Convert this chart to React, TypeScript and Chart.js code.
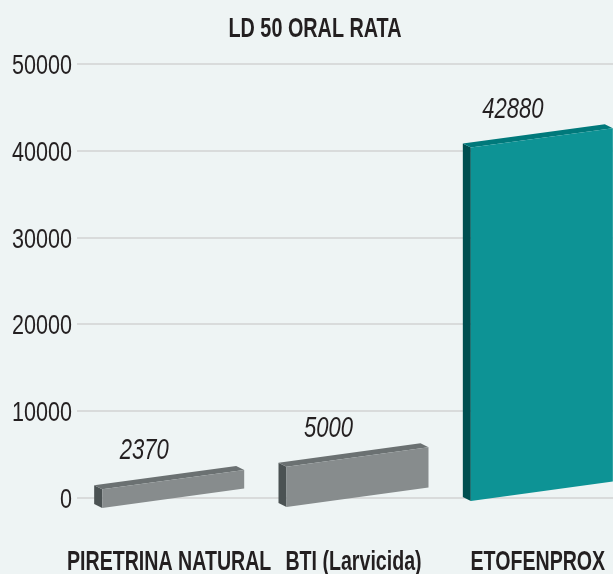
import React, { useEffect, useRef } from "react";
import { Chart, registerables } from "chart.js";

Chart.register(...registerables);

const categories = ["PIRETRINA NATURAL", "BTI (Larvicida)", "ETOFENPROX"];
const values = [2370, 5000, 42880];
const yMin = 0;
const yMax = 50000;
const yStep = 10000;
const title = "LD 50 ORAL RATA";

const FONT = '"Liberation Sans", Arial, sans-serif';
const TEXT = "#231f20";
const BG = "#eef4f4";
const frontColors = ["#878c8d", "#878c8d", "#0d9395"];
const topColors = ["#6b7172", "#6b7172", "#00797b"];
const sideColors = ["#4b5253", "#4b5253", "#004f50"];
const dropPx = [11, 10, 4];
const DEPTH_X = 8;
const DEPTH_Y = 4;
const SKEW = 0.137;
const HEIGHT_K = 0.952;

function drawText(
  ctx: CanvasRenderingContext2D,
  text: string,
  x: number,
  y: number,
  font: string,
  sx: number,
  align: CanvasTextAlign
) {
  ctx.save();
  ctx.translate(x, y);
  ctx.scale(sx, 1);
  ctx.font = font;
  ctx.fillStyle = TEXT;
  ctx.textAlign = align;
  ctx.textBaseline = "alphabetic";
  ctx.fillText(text, 0, 0);
  ctx.restore();
}

const bar3d = {
  id: "bar3d",
  afterDatasetsDraw(chart: any) {
    const meta = chart.getDatasetMeta(0);
    const ctx = chart.ctx;
    ctx.save();
    meta.data.forEach((el: any, i: number) => {
      const { x, y, base, width } = el.getProps(["x", "y", "base", "width"], true);
      const h = (base - y) * HEIGHT_K;
      const right = x + width / 2;
      const fl = x - width / 2 + DEPTH_X;
      const fw = right - fl;
      const bl = { x: fl, y: base + dropPx[i] };
      const br = { x: right, y: bl.y - fw * SKEW };
      const tl = { x: fl, y: bl.y - h };
      const tr = { x: right, y: br.y - h };
      const poly = (pts: { x: number; y: number }[], color: string) => {
        ctx.beginPath();
        ctx.moveTo(pts[0].x, pts[0].y);
        for (let k = 1; k < pts.length; k++) ctx.lineTo(pts[k].x, pts[k].y);
        ctx.closePath();
        ctx.fillStyle = color;
        ctx.fill();
      };
      const d = (p: { x: number; y: number }) => ({ x: p.x - DEPTH_X, y: p.y - DEPTH_Y });
      poly([tl, bl, d(bl), d(tl)], sideColors[i]);
      poly([tl, tr, d(tr), d(tl)], topColors[i]);
      poly([bl, br, tr, tl], frontColors[i]);
      drawText(ctx, String(values[i]), fl + 42, tl.y - 30, `italic 29px ${FONT}`, 0.76, "center");
    });
    ctx.restore();
  },
  afterDraw(chart: any) {
    const ctx = chart.ctx;
    const xs = chart.scales.x;
    const ys = chart.scales.y;
    drawText(ctx, title, 315, 36.5, `bold 28px ${FONT}`, 0.707, "center");
    ys.ticks.forEach((t: any) => {
      const py = ys.getPixelForValue(t.value);
      drawText(ctx, String(t.value), ys.right - 5, py + 10, `28px ${FONT}`, 0.77, "right");
    });
    categories.forEach((c, i) => {
      const px = xs.getPixelForValue(i);
      drawText(ctx, c, px, 570, `bold 28px ${FONT}`, 0.7, "center");
    });
  },
};

export default function App() {
  const ref = useRef<HTMLCanvasElement>(null);
  useEffect(() => {
    if (!ref.current) return;
    const chart = new Chart(ref.current, {
      type: "bar",
      data: {
        labels: categories,
        datasets: [
          {
            data: values,
            backgroundColor: "rgba(0,0,0,0)",
            borderWidth: 0,
            barThickness: 150,
          },
        ],
      },
      options: {
        animation: false,
        responsive: false,
        devicePixelRatio: 1,
        layout: { padding: { left: 0, right: 4, top: 64, bottom: 0 } },
        plugins: {
          legend: { display: false },
          tooltip: { enabled: false },
          title: { display: false },
        },
        scales: {
          x: {
            grid: { display: false, drawTicks: false },
            border: { display: false },
            ticks: { display: false },
            afterFit: (s: any) => {
              s.height = 76;
            },
          },
          y: {
            min: yMin,
            max: yMax,
            ticks: { stepSize: yStep, display: false },
            grid: { color: "#d9dbdb", lineWidth: 2, drawTicks: false },
            border: { display: false },
            afterFit: (s: any) => {
              s.width = 77;
            },
          },
        },
      },
      plugins: [bar3d],
    });
    return () => chart.destroy();
  }, []);
  return (
    <div
      style={{
        position: "absolute",
        left: 0,
        top: 0,
        width: 613,
        height: 574,
        overflow: "hidden",
        background: BG,
      }}
    >
      <canvas ref={ref} width={634} height={574} style={{ display: "block" }} />
    </div>
  );
}
